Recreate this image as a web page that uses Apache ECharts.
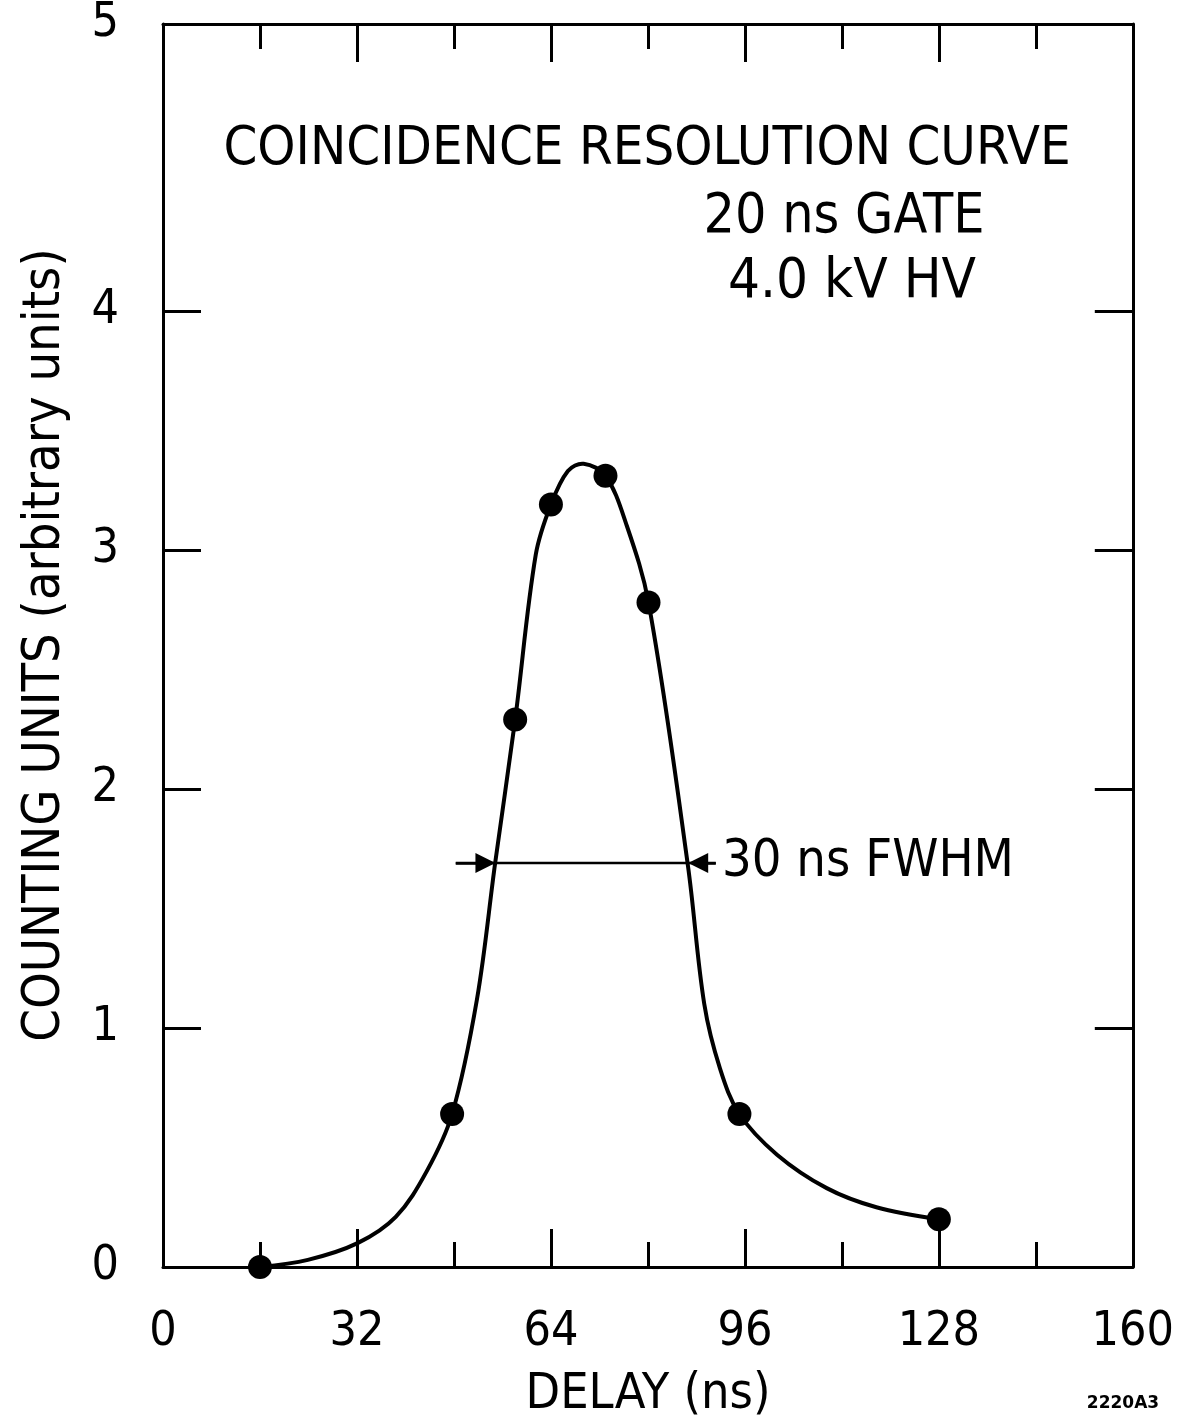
<!DOCTYPE html>
<html>
<head>
<meta charset="utf-8">
<title>Coincidence resolution curve</title>
<script src="https://cdn.jsdelivr.net/npm/echarts@6/dist/echarts.min.js"></script>
<style>
  body { margin: 0; background: #fff; }
  #chart { width: 1177px; height: 1422px; }
</style>
</head>
<body>
<div id="chart"></div>
<script>
// measured points: delay (ns) / counting units
var pointDelay = [16, 47.7, 58.1, 64, 73, 80.1, 95.1, 128];
var pointCount = [0, 0.64, 2.29, 3.19, 3.31, 2.78, 0.64, 0.20];

// the drawn curve
var curveDelay = [16, 23.9, 32.1, 38.4, 43.5, 47.7, 51.8, 54.8, 58.1, 61.5, 64, 66.8, 69.4, 73, 76.4, 80.1, 86.6, 89.3, 91.9, 95.1, 101.3, 109.5, 117.7, 128];
var curveCount = [0, 0.03, 0.10, 0.21, 0.40, 0.64, 1.12, 1.69, 2.29, 2.98, 3.19, 3.33, 3.36, 3.31, 3.11, 2.78, 1.68, 1.10, 0.83, 0.64, 0.47, 0.33, 0.25, 0.20];

// FWHM marker
var fwhmDelay = [48.3, 91.2];
var fwhmArrowDelay = [53.2, 88.3];
var fwhmLevel = 1.69;

// axis ticks / labels
var yTickValues = [1, 2, 3, 4];
var yLabelValues = [0, 1, 2, 3, 4, 5.2];
var yLabelText = ['0', '1', '2', '3', '4', '5'];

var FONT = '"Liberation Sans Narrow", "DejaVu Sans Condensed", "Liberation Sans", sans-serif';

function zip(xs, ys) {
    return xs.map(function (x, i) { return [x, ys[i]]; });
}

var frame = { show: true, onZero: false, lineStyle: { color: '#000', width: 3 } };
var tick = { show: true, inside: true, length: 38, lineStyle: { color: '#000', width: 3 } };

function xAx(pos, labels) {
    return {
        type: 'value', position: pos, min: 0, max: 160, interval: 32,
        axisLine: frame,
        axisTick: tick,
        minorTick: { show: true, splitNumber: 2, length: 25, lineStyle: { color: '#000', width: 3 } },
        axisLabel: { show: labels, margin: 42, fontSize: 48, color: '#000', fontFamily: FONT },
        splitLine: { show: false },
        minorSplitLine: { show: false }
    };
}

function yAx(pos, labels) {
    return {
        type: 'value', position: pos, min: 0, max: 5.2,
        axisLine: frame,
        axisTick: { show: true, inside: true, length: 38, customValues: yTickValues, lineStyle: { color: '#000', width: 3 } },
        axisLabel: {
            show: labels, customValues: yLabelValues, margin: 44, fontSize: 48, color: '#000', fontFamily: FONT,
            formatter: function (v) { return yLabelText[yLabelValues.indexOf(v)]; }
        },
        splitLine: { show: false }
    };
}

// one smooth stroke through the curve points (no clamping of control points)
function renderCurve(params, api) {
    if (params.dataIndex !== 0) return null;
    var pts = curveDelay.map(function (d, i) { return api.coord([d, curveCount[i]]); });
    return {
        type: 'polyline',
        shape: { points: pts, smooth: 0.35 },
        style: { stroke: '#000', lineWidth: 4, fill: 'none' }
    };
}

var chart = echarts.init(document.getElementById('chart'));
var option = {
    backgroundColor: '#fff',
    animation: false,
    grid: { left: 163, right: 44, top: 20, bottom: 155, containLabel: false },
    xAxis: [xAx('bottom', true), xAx('top', false)],
    yAxis: [yAx('left', true), yAx('right', false)],
    graphic: [
        { type: 'text', x: 647, y: 150, style: { text: 'COINCIDENCE RESOLUTION CURVE', align: 'center', verticalAlign: 'middle', fontSize: 54, fontFamily: FONT, fill: '#000' } },
        { type: 'text', x: 844, y: 218, style: { text: '20 ns GATE', align: 'center', verticalAlign: 'middle', fontSize: 55, fontFamily: FONT, fill: '#000' } },
        { type: 'text', x: 852, y: 282, style: { text: '4.0 kV HV', align: 'center', verticalAlign: 'middle', fontSize: 56, fontFamily: FONT, fill: '#000' } },
        { type: 'text', x: 722, y: 862, style: { text: '30 ns FWHM', align: 'left', verticalAlign: 'middle', fontSize: 52, fontFamily: FONT, fill: '#000' } },
        { type: 'text', x: 45, y: 645, rotation: Math.PI / 2, style: { text: 'COUNTING UNITS (arbitrary units)', align: 'center', verticalAlign: 'middle', fontSize: 52, fontFamily: FONT, fill: '#000' } },
        { type: 'text', x: 648, y: 1395, style: { text: 'DELAY (ns)', align: 'center', verticalAlign: 'middle', fontSize: 50, fontFamily: FONT, fill: '#000' } },
        { type: 'text', x: 1123, y: 1404, style: { text: '2220A3', align: 'center', verticalAlign: 'middle', fontSize: 17, fontWeight: 'bold', fontFamily: '"DejaVu Sans", sans-serif', fill: '#000' } }
    ],
    series: [
        {
            type: 'custom',
            coordinateSystem: 'cartesian2d',
            data: zip(curveDelay, curveCount),
            encode: { x: 0, y: 1 },
            renderItem: renderCurve,
            silent: true,
            z: 2
        },
        {
            type: 'line',
            data: zip(fwhmDelay, [fwhmLevel, fwhmLevel]),
            showSymbol: false,
            lineStyle: { color: '#000', width: 2.5 },
            markLine: {
                silent: true,
                symbol: ['none', 'triangle'],
                symbolSize: [20, 20],
                label: { show: false },
                lineStyle: { color: '#000', width: 2.5, type: 'solid' },
                data: [
                    [{ coord: [fwhmDelay[0], fwhmLevel] }, { coord: [fwhmArrowDelay[0], fwhmLevel] }],
                    [{ coord: [fwhmDelay[1], fwhmLevel] }, { coord: [fwhmArrowDelay[1], fwhmLevel] }]
                ]
            },
            z: 3
        },
        {
            type: 'scatter',
            data: zip(pointDelay, pointCount),
            symbolSize: 24,
            itemStyle: { color: '#000', opacity: 1 },
            z: 4
        }
    ]
};
chart.setOption(option);
</script>
</body>
</html>
